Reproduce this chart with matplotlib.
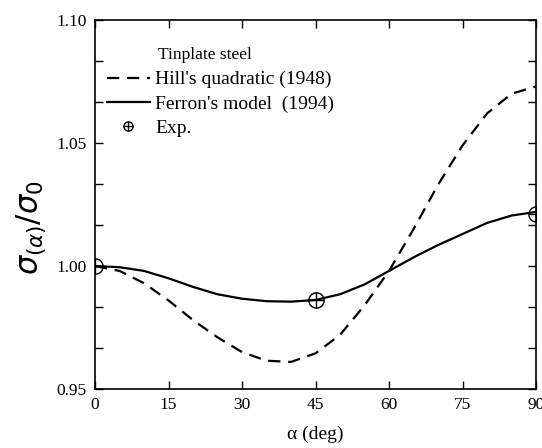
import matplotlib
matplotlib.use("Agg")
import matplotlib.pyplot as plt
from matplotlib.ticker import MultipleLocator

# angles (deg) and normalised yield stress
alpha = [0, 5, 10, 15, 20, 25, 30, 35, 40, 45, 50, 55, 60, 65, 70, 75, 80, 85, 90]
hill = [1.000, 0.998, 0.993, 0.986, 0.978, 0.971, 0.965, 0.9615, 0.961, 0.9645,
        0.972, 0.984, 0.998, 1.015, 1.033, 1.049, 1.062, 1.070, 1.073]
ferron = [1.000, 0.9995, 0.998, 0.995, 0.9915, 0.9885, 0.9867, 0.9857, 0.9855, 0.9862,
          0.9885, 0.9925, 0.998, 1.0035, 1.0085, 1.013, 1.0175, 1.0205, 1.022]
exp_alpha = [0, 45, 90]
exp_val = [1.000, 0.986, 1.021]

plt.rcParams['font.family'] = ['Liberation Serif', 'DejaVu Serif']

fig = plt.figure(figsize=(5.42, 4.48), dpi=100)
ax = fig.add_axes([0.1753, 0.1317, 0.8137, 0.8237])

l1, = ax.plot(alpha, hill, color='black', lw=1.6, dashes=(5.5, 3.5))
l2, = ax.plot(alpha, ferron, color='black', lw=1.6)
m1, = ax.plot(exp_alpha, exp_val, ls='none', marker='o', ms=11, mfc='none',
              mec='black', mew=1.0)
m2, = ax.plot(exp_alpha, exp_val, ls='none', marker='+', ms=11, color='black', mew=1.0)

ax.set_xlim(0, 90)
ax.set_ylim(0.95, 1.10)
ax.set_xticks([0, 15, 30, 45, 60, 75, 90])
ax.set_yticks([0.95, 1.00, 1.05, 1.10])
ax.set_yticklabels(['0.95', '1.00', '1.05', '1.10'])
ax.yaxis.set_minor_locator(MultipleLocator(0.05 / 3))
ax.tick_params(which='both', direction='in', top=True, right=True, labelsize=12.5, pad=6)
ax.tick_params(which='major', length=6, width=1)
ax.tick_params(which='minor', length=6, width=1)
for s in ax.spines.values():
    s.set_linewidth(1.2)

ax.set_xlabel('α (deg)', fontsize=14, labelpad=9)
ax.set_ylabel(r'$\sigma_{(\alpha)}/\sigma_0$', fontsize=22,
              math_fontfamily='dejavusans')
ax.yaxis.set_label_coords(-0.105, 0.436)

ax.text(0.142, 0.905, 'Tinplate steel', transform=ax.transAxes, fontsize=12.5,
        ha='left', va='center')
ax.legend([l1, l2, (m1, m2)],
          ["Hill's quadratic (1948)", "Ferron's model  (1994)", 'Exp.'],
          loc='upper left', bbox_to_anchor=(0.018, 0.873), frameon=False,
          fontsize=14, handlelength=2.2, handletextpad=0.3, labelspacing=0.35,
          borderpad=0.2, borderaxespad=0, markerscale=0.6)

fig.savefig('out.png', dpi=100)
